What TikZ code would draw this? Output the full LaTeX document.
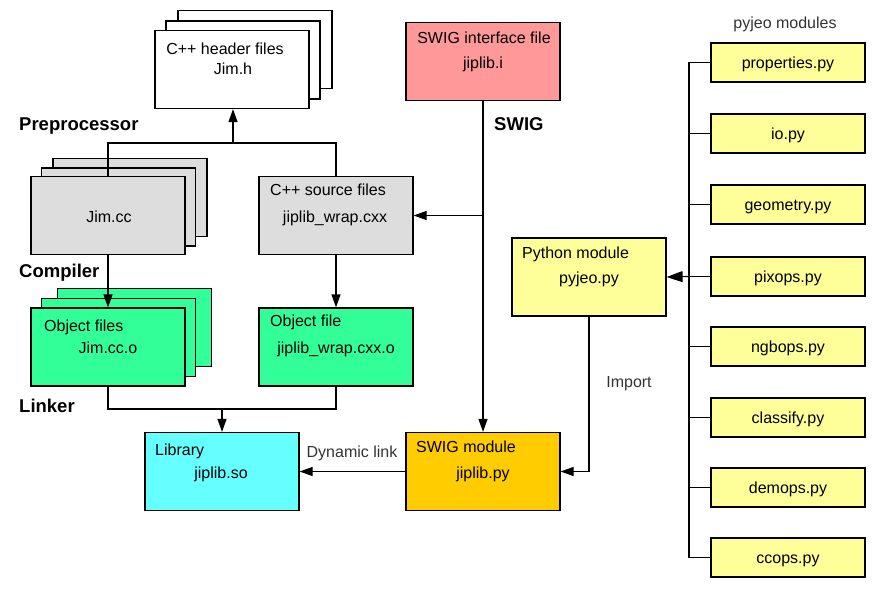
\documentclass[tikz,border=0pt]{standalone}
\usepackage{fontspec}
\setmainfont{Liberation Sans}
\usetikzlibrary{arrows.meta}
\definecolor{cgrey}{HTML}{DDDDDD}
\definecolor{cgreen}{HTML}{33FF99}
\definecolor{ccyan}{HTML}{66FFFF}
\definecolor{corange}{HTML}{FFCC00}
\definecolor{cpink}{HTML}{FF9999}
\definecolor{cyell}{HTML}{FFFF99}
\definecolor{ctxt}{HTML}{333333}
\tikzset{
  box/.style={draw, line width=1.2pt, minimum width=154pt, minimum height=78pt, inner sep=0pt},
  mbox/.style={draw, line width=1.2pt, fill=cyell, minimum width=154pt, minimum height=39pt, inner sep=0pt, text height=11.5pt, text depth=0pt, font=\fontsize{16}{19}\selectfont},
  txt/.style={inner sep=0pt, font=\fontsize{16}{19}\selectfont},
  gtxt/.style={txt, text=ctxt},
  btxt/.style={inner sep=0pt, anchor=base west, font=\fontsize{18.5}{22}\selectfont\bfseries},
  conn/.style={line width=1.2pt},
  arr/.style={conn, -{Triangle[length=13pt,width=9pt]}},
  barr/.style={conn, -{Triangle[length=16pt,width=11pt]}},
}
\begin{document}
\begin{tikzpicture}[x=1pt,y=-1pt]
\useasboundingbox (0,0) rectangle (874,596);
% header stack
\node[box, fill=white] (hdr3) at (255,49.5) {};
\node[box, fill=white] (hdr2) at (243,60) {};
\node[box, fill=white] (hdr1) at (232,69.5) {};
\node[txt, anchor=base] (hdrt1) at (225,55) {C++ header files};
\node[txt, anchor=base] (hdrt2) at (233,75) {Jim.h};
% Jim.cc stack
\node[box, fill=cgrey] (jimcc3) at (130,197.5) {};
\node[box, fill=cgrey] (jimcc2) at (118.5,207) {};
\node[box, fill=cgrey] (jimcc1) at (108,215.5) {};
\node[txt, anchor=base] (jimcct) at (109,222) {Jim.cc};
% C++ source
\node[box, fill=cgrey] (src) at (336,215.5) {};
\node[txt, anchor=base west] (srct1) at (270,195) {C++ source files};
\node[txt, anchor=base] (srct2) at (335,222) {jiplib\_wrap.cxx};
% object files stack
\node[box, fill=cgreen] (obj3) at (134.5,327.5) {};
\node[box, fill=cgreen] (obj2) at (118.5,337.5) {};
\node[box, fill=cgreen] (obj1) at (108,347) {};
\node[txt, anchor=base west] (objt1) at (44,331) {Object files};
\node[txt, anchor=base] (objt2) at (108,353) {Jim.cc.o};
% object file
\node[box, fill=cgreen] (objw) at (336,347) {};
\node[txt, anchor=base west] (objwt1) at (270,326) {Object file};
\node[txt, anchor=base] (objwt2) at (336,353) {jiplib\_wrap.cxx.o};
% library
\node[box, fill=ccyan] (lib) at (222,471.5) {};
\node[txt, anchor=base west] (libt1) at (155,455) {Library};
\node[txt, anchor=base] (libt2) at (221,478) {jiplib.so};
% SWIG module
\node[box, fill=corange] (swigm) at (483,471.5) {};
\node[txt, anchor=base west] (swigmt1) at (416,452) {SWIG module};
\node[txt, anchor=base] (swigmt2) at (483,478) {jiplib.py};
% SWIG interface
\node[box, fill=cpink] (swigi) at (483,61.5) {};
\node[txt, anchor=base] (swigit1) at (484,44) {SWIG interface file};
\node[txt, anchor=base] (swigit2) at (483,69) {jiplib.i};
% Python module
\node[box, fill=cyell] (pym) at (589,277) {};
\node[txt, anchor=base west] (pymt1) at (522,258) {Python module};
\node[txt, anchor=base] (pymt2) at (589,283) {pyjeo.py};
% pyjeo modules
\node[gtxt, anchor=base] (pmt) at (785,29) {pyjeo modules};
\node[mbox] (m1) at (788,62.5) {properties.py};
\node[mbox] (m2) at (788,133.5) {io.py};
\node[mbox] (m3) at (788,204.5) {geometry.py};
\node[mbox] (m4) at (788,276.5) {pixops.py};
\node[mbox] (m5) at (788,346.5) {ngbops.py};
\node[mbox] (m6) at (788,417.5) {classify.py};
\node[mbox] (m7) at (788,487.5) {demops.py};
\node[mbox] (m8) at (788,557.5) {ccops.py};
% stage labels
\node[btxt] (lpre) at (19,130.5) {Preprocessor};
\node[btxt] (lcomp) at (19,277.5) {Compiler};
\node[btxt] (llink) at (19,412) {Linker};
\node[btxt] (lswig) at (494,130.5) {SWIG};
% connectors
\coordinate (pp) at (233,143);
\draw[conn] (jimcc1.north) |- (pp) -| (src.north);
\draw[arr] (pp) -- (pp |- hdr1.south);
\draw[arr] (jimcc1.south) -- (obj1.north);
\draw[arr] (src.south) -- (objw.north);
\coordinate (lk) at (222,409);
\draw[conn] (obj1.south) |- (lk) -| (objw.south);
\draw[arr] (lk) -- (lib.north);
\draw[arr] (swigi.south) -- (swigm.north);
\coordinate (sw) at (483,215.5);
\draw[arr] (sw) -- (src.east);
\draw[arr] (swigm.west) -- (lib.east);
\node[gtxt, anchor=base] (dl) at (352,457) {Dynamic link};
\draw[arr] (pym.south) |- (swigm.east);
\node[gtxt, anchor=base] (imp) at (629,387) {Import};
\coordinate (rv) at (689,276.5);
\draw[conn] (m1.west) -- (m1.west -| rv) -- (m8.west -| rv) -- (m8.west);
\foreach \m in {m2,m3,m4,m5,m6,m7} { \draw[conn] (\m.west -| rv) -- (\m.west); }
\draw[barr] (rv) -- (pym.east);
\end{tikzpicture}
\end{document}
